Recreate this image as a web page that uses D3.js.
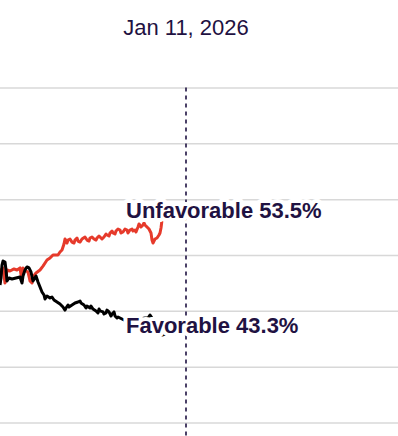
<!DOCTYPE html>
<html>
<head>
<meta charset="utf-8">
<script src="https://cdn.jsdelivr.net/npm/d3@7/dist/d3.min.js"></script>
<style>
  html, body { margin: 0; padding: 0; background: #fff; }
  svg { display: block; }
  text { font-family: "Liberation Sans", Arial, Helvetica, sans-serif; }
</style>
</head>
<body>
<svg id="chart" width="398" height="436"></svg>
<script>
// ---- data ----
const xDomain = ["2025-01-04", "2027-03-11"];
const markerDate = "2026-01-11";
const markerLabel = "Jan 11, 2026";
const yTicks = [35, 40, 45, 50, 55, 60, 65];

const unfavDates = ["2025-01-04","2025-01-06","2025-01-10","2025-01-14","2025-01-18","2025-01-24","2025-02-01","2025-02-07","2025-02-13","2025-02-17",
  "2025-02-19","2025-02-25","2025-03-01","2025-03-05","2025-03-09","2025-03-11","2025-03-17","2025-03-25","2025-03-31","2025-04-08",
  "2025-04-14","2025-04-20","2025-04-30","2025-05-04","2025-05-08","2025-05-12","2025-05-14","2025-05-16","2025-05-18","2025-05-20",
  "2025-05-24","2025-05-28","2025-06-01","2025-06-03","2025-06-07","2025-06-09","2025-06-13","2025-06-17","2025-06-23","2025-06-27",
  "2025-07-01","2025-07-03","2025-07-07","2025-07-11","2025-07-15","2025-07-17","2025-07-21","2025-07-23","2025-07-27","2025-07-31",
  "2025-08-04","2025-08-06","2025-08-10","2025-08-12","2025-08-16","2025-08-18","2025-08-22","2025-08-24","2025-08-28","2025-09-01",
  "2025-09-03","2025-09-07","2025-09-11","2025-09-15","2025-09-17","2025-09-21","2025-09-25","2025-09-27","2025-10-01","2025-10-03",
  "2025-10-07","2025-10-09","2025-10-11","2025-10-13","2025-10-17","2025-10-19","2025-10-21","2025-10-25","2025-10-29","2025-11-02",
  "2025-11-04","2025-11-06","2025-11-10","2025-11-14","2025-11-18","2025-11-20","2025-11-22","2025-11-24","2025-11-30","2025-12-10",
  "2025-12-20","2025-12-30","2026-01-11"];
const unfavValues = [47.49,48.66,48.84,47.49,48.66,48.57,48.75,48.66,48.84,47.67,
  48.84,48.57,48.48,47.67,47.49,48.03,48.39,48.66,49.01,49.55,
  49.73,50.00,50.00,50.27,50.45,50.99,51.43,51.25,51.07,51.34,
  51.43,51.16,51.07,51.34,51.52,51.25,51.16,51.43,51.61,51.34,
  51.25,51.52,51.61,51.43,51.34,51.52,51.70,51.61,51.43,51.61,
  51.88,51.79,51.70,51.97,52.15,51.97,51.88,52.15,52.33,52.24,
  51.97,52.06,52.33,52.24,51.97,52.24,52.33,52.15,52.24,52.06,
  52.51,52.78,52.69,52.51,52.69,52.87,52.69,52.51,52.33,51.97,
  51.34,51.07,51.43,51.52,51.79,51.97,52.42,53.13,53.22,53.18,
  53.22,53.18,53.22];

const favDates = ["2025-01-04","2025-01-06","2025-01-08","2025-01-10","2025-01-14","2025-01-16","2025-01-18","2025-01-22","2025-01-28","2025-02-05",
  "2025-02-13","2025-02-17","2025-02-19","2025-02-23","2025-02-27","2025-03-03","2025-03-07","2025-03-11","2025-03-15","2025-03-17",
  "2025-03-21","2025-03-25","2025-03-29","2025-04-02","2025-04-04","2025-04-08","2025-04-14","2025-04-18","2025-04-22","2025-04-28",
  "2025-05-04","2025-05-10","2025-05-14","2025-05-16","2025-05-20","2025-05-22","2025-05-28","2025-06-03","2025-06-09","2025-06-13",
  "2025-06-15","2025-06-21","2025-06-25","2025-06-27","2025-07-03","2025-07-05","2025-07-09","2025-07-15","2025-07-19","2025-07-21",
  "2025-07-23","2025-07-29","2025-07-31","2025-08-04","2025-08-06","2025-08-10","2025-08-14","2025-08-16","2025-08-20","2025-08-22",
  "2025-08-26","2025-08-28","2025-09-05","2025-09-13","2025-09-21","2025-10-01","2025-10-11","2025-10-21","2025-10-27","2025-10-31",
  "2025-11-04","2025-11-10","2025-11-16","2025-11-24","2025-12-02","2025-12-10","2025-12-20","2025-12-30","2026-01-11"];
const favValues = [47.31,47.94,49.10,49.46,49.37,48.66,47.67,47.94,47.85,47.94,
  48.03,47.49,48.12,48.66,48.93,48.84,48.48,47.67,47.94,48.12,
  47.58,47.13,46.69,46.42,46.06,46.33,46.15,46.24,45.97,45.79,
  45.61,45.34,45.07,45.25,45.52,45.34,45.52,45.70,45.79,45.88,
  45.70,45.52,45.25,45.43,45.25,45.43,45.16,44.99,44.81,45.16,
  44.99,44.90,44.72,44.81,45.07,44.90,44.54,44.72,44.90,44.54,
  44.36,44.45,44.27,44.09,44.00,44.09,44.27,44.36,44.36,44.63,
  44.36,43.64,43.02,42.84,42.93,42.93,42.93,43.02,42.93];

const seriesNames = ["Unfavorable", "Favorable"];
const seriesLabels = ["Unfavorable 53.5%", "Favorable 43.3%"];

// ---- chart ----
const W = 398, H = 436;
const parse = d3.utcParse("%Y-%m-%d");
const svg = d3.select("#chart");

const x = d3.scaleUtc().domain(xDomain.map(parse)).range([0, W]);
const y = d3.scaleLinear().domain([35, 65]).range([422.5, 87.5]);

// gridlines
const grid = svg.append("g")
  .call(d3.axisRight(y).tickValues(yTicks).tickSize(W).tickFormat(""));
grid.select(".domain").remove();
grid.selectAll(".tick line").attr("stroke", "#d8d8d8").attr("stroke-width", 1.5);

// marker dashed line
const mx = x(parse(markerDate));
svg.append("line")
  .attr("x1", mx).attr("x2", mx)
  .attr("y1", y(65)).attr("y2", H)
  .attr("stroke", "#1f1242").attr("stroke-width", 1.6)
  .attr("stroke-dasharray", "4,4");

svg.append("text")
  .attr("x", mx).attr("y", 35)
  .attr("text-anchor", "middle")
  .attr("font-size", 22)
  .attr("fill", "#1f1242")
  .text(markerLabel);

const line = d3.line().x(d => x(d[0])).y(d => y(d[1]));
const series = [
  { name: seriesNames[0], color: "#e63a2b", data: unfavDates.map((d, i) => [parse(d), unfavValues[i]]), label: seriesLabels[0], dy: -1 },
  { name: seriesNames[1], color: "#000000", data: favDates.map((d, i) => [parse(d), favValues[i]]), label: seriesLabels[1], dy: -1 }
];

series.forEach(s => {
  svg.append("path")
    .datum(s.data)
    .attr("fill", "none")
    .attr("stroke", s.color)
    .attr("stroke-width", 3)
    .attr("stroke-linejoin", "round")
    .attr("d", line);
});

series.forEach(s => {
  const last = s.data[s.data.length - 1];
  svg.append("text")
    .attr("x", x(last[0]) - 60)
    .attr("y", y(last[1]) + s.dy)
    .attr("font-size", 22)
    .attr("font-weight", "bold")
    .attr("fill", "#1f1242")
    .attr("stroke", "#fff")
    .attr("stroke-width", 8)
    .attr("stroke-linejoin", "round")
    .attr("paint-order", "stroke")
    .text(s.label);
});
</script>
</body>
</html>
